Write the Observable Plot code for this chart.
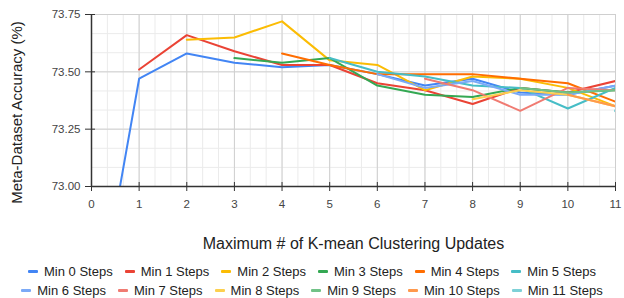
<!DOCTYPE html>
<html><head><meta charset="utf-8">
<script src="https://cdn.jsdelivr.net/npm/d3@7"></script>
<script src="https://cdn.jsdelivr.net/npm/@observablehq/plot@0.6"></script>
<style>
html,body{margin:0;padding:0;background:#fff;}
body{width:624px;height:298px;overflow:hidden;font-family:"Liberation Sans",Arial,sans-serif;}
#chart svg{display:block;}
.legend{display:flex;flex-direction:column;align-items:center;margin-top:10px;}
.lrow{display:flex;justify-content:center;height:19px;align-items:center;}
.item{display:flex;align-items:center;margin:0 6px;font-size:13px;color:#222;white-space:nowrap;}
.sw{width:10px;height:3px;margin-right:6px;border-radius:1px;}
</style></head><body>
<div id="chart"></div>
<div class="legend" id="legend"></div>
<script>
// ---- data ----
const seriesNames = ["Min 0 Steps","Min 1 Steps","Min 2 Steps","Min 3 Steps","Min 4 Steps","Min 5 Steps",
                     "Min 6 Steps","Min 7 Steps","Min 8 Steps","Min 9 Steps","Min 10 Steps","Min 11 Steps"];
const seriesStart = [0,1,2,3,4,5,6,7,8,9,10,11];
const seriesColors = ["#4285F4","#EA4335","#FBBC04","#34A853","#FF6D01","#46BDC6",
                      "#7BAAF7","#F07B72","#FCD04F","#71C287","#FF994D","#7ED1D7"];
const min0  = [72.30,73.47,73.58,73.54,73.52,73.53,73.49,73.44,73.47,73.41,73.40,73.44];
const min1  = [73.51,73.66,73.59,73.53,73.53,73.45,73.42,73.36,73.43,73.41,73.46];
const min2  = [73.64,73.65,73.72,73.55,73.53,73.42,73.48,73.47,73.43,73.35];
const min3  = [73.56,73.54,73.56,73.44,73.40,73.39,73.43,73.41,73.42];
const min4  = [73.58,73.53,73.49,73.49,73.49,73.47,73.45,73.37];
const min5  = [73.56,73.50,73.48,73.44,73.43,73.34,73.43];
const min6  = [73.49,73.43,73.46,73.40,73.40,73.44];
const min7  = [73.47,73.42,73.33,73.43,73.42];
const min8  = [73.38,73.42,73.40,73.35];
const min9  = [73.43,73.41,73.42];
const min10 = [73.40,73.35];
const min11 = [73.33];
const seriesValues = [min0,min1,min2,min3,min4,min5,min6,min7,min8,min9,min10,min11];
const xTicks = [0,1,2,3,4,5,6,7,8,9,10,11];
const yTicks = [73.00,73.25,73.50,73.75];
const xTitle = "Maximum # of K-mean Clustering Updates";
const yTitle = "Meta-Dataset Accuracy (%)";

const rows = [];
seriesValues.forEach((vals, s) => vals.forEach((v, i) => rows.push({x: seriesStart[s] + i, y: v, series: seriesNames[s]})));
const singles = rows.filter(r => seriesValues[seriesNames.indexOf(r.series)].length === 1);

const minorX = d3.range(0, 11.0001, 1/3);
const minorY = d3.range(73, 73.7501, 0.25/3);
const font = '"Liberation Sans", Arial, sans-serif';

const chart = Plot.plot({
  width: 624, height: 252,
  marginTop: 14, marginLeft: 91, marginRight: 9, marginBottom: 66,
  style: {fontFamily: font, fontSize: "11.5px", color: "#444", background: "#fff"},
  x: {domain: [0, 11]},
  y: {domain: [73, 73.75]},
  color: {domain: seriesNames, range: seriesColors},
  marks: [
    Plot.gridX(minorX, {stroke: "#ebebeb", strokeOpacity: 1}),
    Plot.gridY(minorY, {stroke: "#ebebeb", strokeOpacity: 1}),
    Plot.gridX(xTicks, {stroke: "#cfcfcf", strokeOpacity: 1}),
    Plot.gridY(yTicks, {stroke: "#cfcfcf", strokeOpacity: 1}),
    Plot.axisX(xTicks, {tickSize: 5, tickPadding: 8, label: null, stroke: "#333"}),
    Plot.axisX(xTicks, {tickSize: -4, tickFormat: () => "", label: null, stroke: "#333"}),
    Plot.axisY(yTicks, {tickSize: 6, tickPadding: 5, tickFormat: d3.format(".2f"), label: null, stroke: "#333"}),
    Plot.axisY(yTicks, {tickSize: -4, tickFormat: () => "", label: null, stroke: "#333"}),
    Plot.line(rows, {x: "x", y: "y", z: "series", stroke: "series", strokeWidth: 2, clip: true}),
    Plot.dot(singles, {x: "x", y: "y", fill: "series", r: 1.5, clip: true}),
    Plot.ruleY([73], {stroke: "#333", strokeWidth: 1.5}),
    Plot.ruleX([0], {stroke: "#333", strokeWidth: 1.5}),
    Plot.text([xTitle], {frameAnchor: "bottom", dy: 57, lineAnchor: "middle", textAnchor: "middle", fontSize: 16, fill: "#222"}),
    Plot.text([yTitle], {frameAnchor: "left", dx: -74, dy: 12, rotate: -90, textAnchor: "middle", lineAnchor: "middle", fontSize: 15, fill: "#222"})
  ]
});
document.getElementById("chart").appendChild(chart);

// legend
const legend = document.getElementById("legend");
[seriesNames.slice(0, 6), seriesNames.slice(6)].forEach(names => {
  const row = document.createElement("div");
  row.className = "lrow";
  names.forEach(n => {
    const it = document.createElement("div");
    it.className = "item";
    const sw = document.createElement("span");
    sw.className = "sw";
    sw.style.background = seriesColors[seriesNames.indexOf(n)];
    it.appendChild(sw);
    it.appendChild(document.createTextNode(n));
    row.appendChild(it);
  });
  legend.appendChild(row);
});
</script>
</body></html>
